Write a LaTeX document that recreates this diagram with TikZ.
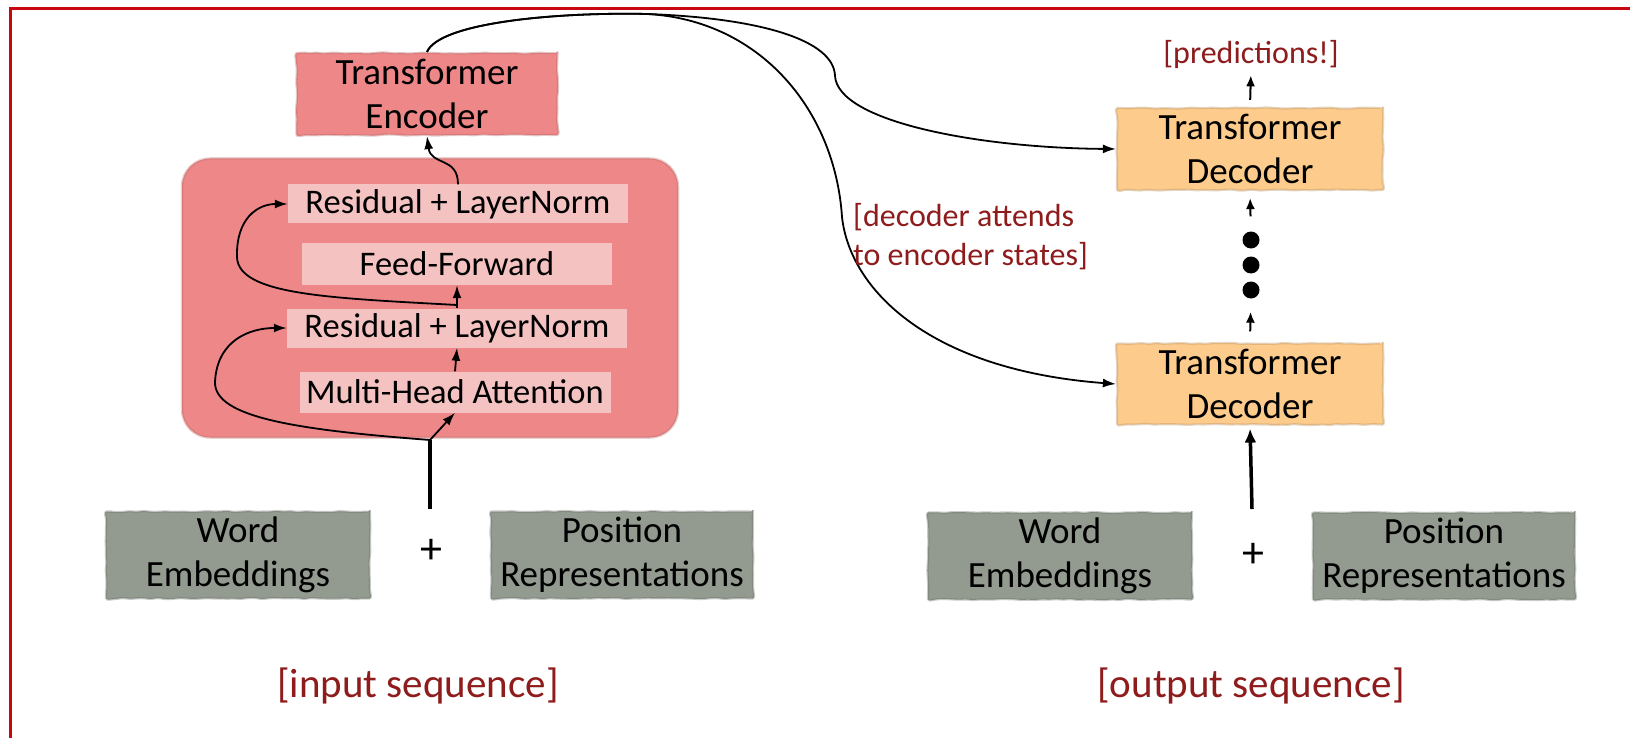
\documentclass[tikz,border=0pt]{standalone}
\usepackage{fontspec}
\setmainfont{Carlito}
\usetikzlibrary{arrows.meta,decorations.pathmorphing}

\definecolor{framered}{HTML}{C8080E}
\definecolor{encpink}{HTML}{EE8787}
\definecolor{subpink}{HTML}{F5C2C2}
\definecolor{decorange}{HTML}{FDCB8B}
\definecolor{embgray}{HTML}{939B90}
\definecolor{notered}{HTML}{8E1C1C}

\newcommand\fbig{\fontsize{37}{44}\selectfont}
\newcommand\fmid{\fontsize{34.5}{38}\selectfont}
\newcommand\fnote{\fontsize{32}{39}\selectfont}
\newcommand\fseq{\fontsize{41}{48}\selectfont}
\newcommand\fplus{\fontsize{44}{48}\selectfont}

\tikzset{
  rough/.style={decorate, decoration={random steps, segment length=7pt, amplitude=0.6pt}, rounded corners=2.5pt},
  block/.style={rough, line width=2.2pt, align=center, inner sep=0pt, font=\fbig},
  encbox/.style={block, fill=encpink, draw=encpink!75!black, draw opacity=0.35, minimum width=261pt, minimum height=82pt},
  decbox/.style={block, fill=decorange, draw=decorange!70!black, draw opacity=0.35, minimum width=266pt, minimum height=82pt},
  embbox/.style={block, fill=embgray, draw=embgray!70!black, draw opacity=0.35, minimum width=264pt, minimum height=87pt},
  layerbox/.style={fill=subpink, minimum height=39pt, inner sep=0pt, font=\fmid},
  note/.style={text=notered, align=left, inner sep=0pt},
  link/.style={draw=black, line width=1.8pt, -{Latex[length=13pt,width=9pt]}},
  trunk/.style={draw=black, line width=3.5pt},
  dot/.style={circle, fill=black, inner sep=0pt, minimum size=17pt},
}

\begin{document}
\begin{tikzpicture}[x=1pt,y=-1pt]
\pgfmathsetseed{7}
\useasboundingbox (0,0) rectangle (1630,738);
\fill[white] (0,0) rectangle (1630,738);

% slide frame
\draw[framered, line width=3pt] (10,738) -- (10,9) -- (1630,9);

% ---------- encoder side ----------
\node[fill=encpink, draw=encpink!75!black, draw opacity=0.3, line width=2.5pt,
      minimum width=496pt, minimum height=279pt, rounded corners=28pt] (stack) at (430,298) {};
\node[encbox] (enc) at (427,94) {Transformer\\Encoder};

\node[layerbox, minimum width=340pt] (rlnA) at (458,204) {Residual + LayerNorm};
\node[layerbox, minimum width=310pt, minimum height=42pt] (ff) at (457,264) {Feed-Forward};
\node[layerbox, minimum width=340pt] (rlnB) at (457,328) {Residual + LayerNorm};
\node[layerbox, minimum width=311pt, minimum height=41pt] (mha) at (455,392) {Multi-Head Attention};

\node[embbox] (weL) at (238,555) {Word\\Embeddings};
\node[font=\fplus, inner sep=0pt] (plusL) at (431,551) {+};
\node[embbox, minimum width=262pt] (posL) at (622,555) {Position\\Representations};
\node[note, font=\fseq] (inseq) at (418,686) {[input sequence]};

\coordinate (sumL) at (430,509);
\coordinate (J) at (430,440);
\coordinate (K) at (457,305);

\draw[trunk] (sumL) -- (J);
\draw[link] (J) -- (mha.south);
\draw[link] (mha.north) -- (rlnB.south);
\draw[link] (rlnB.north) -- (ff.south);
\draw[link] (rlnA.north) .. controls +(0,-28) and +(4,30) .. (enc.south);
% residual connections
\draw[link] (J) .. controls (300,430) and (214,418) .. (215,382)
            .. controls (217,340) and (250,328) .. (rlnB.west);
\draw[link] (K) .. controls (330,298) and (238,295) .. (237,257)
            .. controls (236,218) and (258,204) .. (rlnA.west);

% ---------- decoder side ----------
\node[decbox] (decTop) at (1250,149) {Transformer\\Decoder};
\node[decbox, minimum height=81pt] (decBot) at (1250,384) {Transformer\\Decoder};
\node[note, font=\fnote] (pred) at (1251,55) {[predictions!]};

\node[dot] (d1) at (1251,240) {};
\node[dot] (d2) at (1251,265) {};
\node[dot] (d3) at (1251,290) {};

\draw[link, line width=2pt, -{Latex[length=11pt,width=9pt]}, shorten <=7pt, shorten >=6pt] (decTop.north) -- (pred.south);
\draw[link, line width=2pt, -{Latex[length=11pt,width=9pt]}, shorten <=15pt, shorten >=7pt] (d1) -- (decTop.south);
\draw[link, line width=2pt, -{Latex[length=11pt,width=9pt]}, shorten <=11pt, shorten >=13pt] (decBot.north) -- (d3);

\node[embbox] (weR) at (1060,556) {Word\\Embeddings};
\node[font=\fplus, inner sep=0pt] (plusR) at (1253,555) {+};
\node[embbox, minimum width=262pt] (posR) at (1444,556) {Position\\Representations};
\node[note, font=\fseq] (outseq) at (1251,686) {[output sequence]};

\coordinate (sumR) at (1252,509);
\draw[trunk, -{Latex[length=14pt,width=12pt]}, shorten >=3pt] (sumR) -- (decBot.south);

% cross attention from encoder to decoders
\coordinate (peak) at (647,14);
\draw[link] (enc.north) .. controls (440,22) and (560,12) .. (peak)
            .. controls (760,18) and (834,40) .. (835,76)
            .. controls (838,122) and (980,148) .. (decTop.west);
\draw[link] (enc.north) .. controls (440,22) and (560,12) .. (peak)
            .. controls (760,20) and (835,110) .. (842,217)
            .. controls (850,290) and (930,370) .. (decBot.west);

\node[note, font=\fnote, anchor=north west] (attn) at (853,203)
     {[decoder attends\\to encoder states]};
\end{tikzpicture}
\end{document}
